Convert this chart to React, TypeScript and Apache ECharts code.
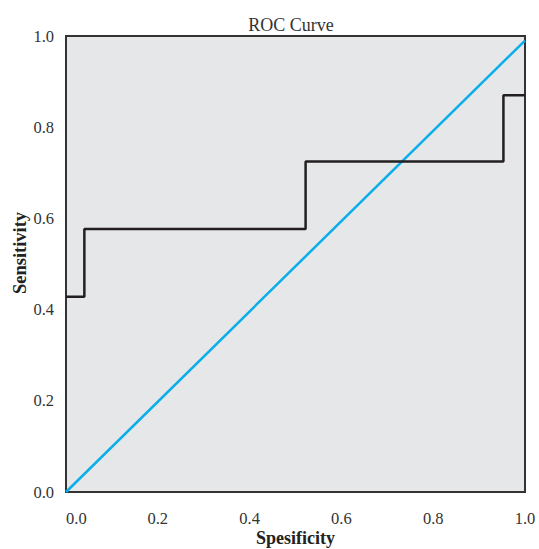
import React, { useEffect, useRef } from "react";
import * as echarts from "echarts";

const rocX = [0, 0.04, 0.522, 0.953, 1];
const rocY = [0.428, 0.577, 0.725, 0.87, 0.87];
const refX = [0, 1];
const refY = [0, 0.99];

export default function App() {
  const ref = useRef<HTMLDivElement>(null);
  useEffect(() => {
    if (!ref.current) return;
    const chart = echarts.init(ref.current, undefined, { renderer: "svg" });
    const font = "Liberation Serif";
    chart.setOption({
      animation: false,
      title: {
        text: "ROC Curve",
        left: 286,
        top: 11,
        textAlign: "center",
        textStyle: { fontFamily: font, fontSize: 18, fontWeight: "normal", color: "#333" },
      },
      grid: {
        left: 66,
        right: 14,
        top: 36,
        bottom: 57,
        outerBoundsMode: "none",
        containLabel: false,
        show: true,
        backgroundColor: "#e6e7e8",
        borderColor: "#333",
        borderWidth: 2,
      },
      xAxis: {
        type: "value",
        min: 0,
        max: 1,
        interval: 0.2,
        name: "Spesificity",
        nameLocation: "middle",
        nameGap: 36,
        nameMoveOverlap: false,
        nameTextStyle: {
          fontFamily: font,
          fontSize: 18,
          fontWeight: "bold",
          color: "#222",
          lineHeight: 20,
        },
        axisLine: { show: false },
        axisTick: { show: false },
        splitLine: { show: false },
        axisLabel: {
          fontFamily: font,
          fontSize: 16.5,
          color: "#333",
          margin: 18,
          alignMinLabel: "left",
          formatter: (v: number) => v.toFixed(1),
        },
      },
      yAxis: {
        type: "value",
        min: 0,
        max: 1,
        interval: 0.2,
        name: "Sensitivity",
        nameLocation: "middle",
        nameGap: 37,
        nameMoveOverlap: false,
        nameTextStyle: {
          fontFamily: font,
          fontSize: 18.5,
          fontWeight: "bold",
          color: "#222",
          padding: [0, 0, 0, 22],
        },
        axisLine: { show: false },
        axisTick: { show: false },
        splitLine: { show: false },
        axisLabel: {
          fontFamily: font,
          fontSize: 16.5,
          color: "#333",
          margin: 12,
          formatter: (v: number) => v.toFixed(1),
        },
      },
      series: [
        {
          type: "line",
          data: refX.map((x, i) => [x, refY[i]]),
          symbol: "none",
          lineStyle: { color: "#0aaeea", width: 2.5 },
        },
        {
          type: "line",
          step: "end",
          data: rocX.map((x, i) => [x, rocY[i]]),
          symbol: "none",
          lineStyle: { color: "#231f20", width: 2.5 },
        },
      ],
    });
    return () => chart.dispose();
  }, []);
  return (
    <div
      ref={ref}
      style={{ position: "fixed", left: 0, top: 0, width: 539, height: 549, background: "#fff" }}
    />
  );
}
